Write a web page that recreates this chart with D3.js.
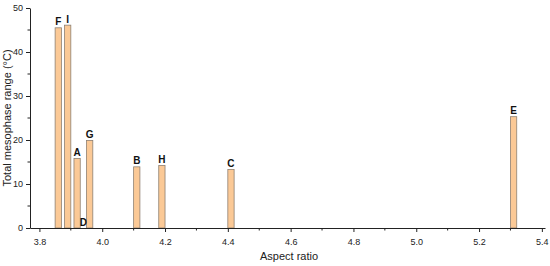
<!DOCTYPE html>
<meta charset="utf-8">
<script src="https://d3js.org/d3.v7.min.js"></script>
<style>
body { margin: 0; background: #fff; }
text { font-family: "Liberation Sans", Arial, sans-serif; }
.axis path, .axis line { stroke: #222; }
.axis text { font-size: 9px; fill: #222; }
</style>
<body></body>
<script>
// data
var labels = ["F", "I", "A", "D", "G", "B", "H", "C", "E"];
var aspect = [3.86, 3.89, 3.92, 3.94, 3.96, 4.11, 4.19, 4.41, 5.31];
var range = [45.5, 46.1, 15.8, 0, 19.9, 13.9, 14.2, 13.3, 25.3];
var xTicks = [3.8, 4.0, 4.2, 4.4, 4.6, 4.8, 5.0, 5.2, 5.4];
var yTicks = [0, 10, 20, 30, 40, 50];

var width = 550, height = 266;
var margin = {top: 8, right: 5, bottom: 38, left: 30};

var svg = d3.select("body").append("svg")
    .attr("width", width)
    .attr("height", height);

var x = d3.scaleLinear()
    .domain([3.77, 5.41])
    .range([margin.left, width - margin.right]);

var y = d3.scaleLinear()
    .domain([0, 50])
    .range([height - margin.bottom, margin.top]);

var barW = x(3.80) - x(3.78);

// bars
svg.append("g").selectAll("rect")
    .data(aspect)
    .enter().append("rect")
    .attr("x", function(d) { return x(d) - barW / 2; })
    .attr("y", function(d, i) { return y(range[i]); })
    .attr("width", barW)
    .attr("height", function(d, i) { return y(0) - y(range[i]); })
    .attr("fill", "#fbc996")
    .attr("stroke", "#8f8172")
    .attr("stroke-width", 0.8);

// letter labels
svg.append("g").selectAll("text")
    .data(aspect)
    .enter().append("text")
    .attr("x", function(d) { return x(d); })
    .attr("y", function(d, i) { return y(range[i]) - 2.5; })
    .attr("text-anchor", "middle")
    .attr("font-size", "10px")
    .attr("font-weight", "bold")
    .attr("fill", "#111")
    .text(function(d, i) { return labels[i]; });

// x axis: major + minor ticks
var xg = svg.append("g")
    .attr("class", "axis")
    .attr("transform", "translate(0," + y(0) + ")");
xg.call(d3.axisBottom(x).tickValues(xTicks).tickFormat(d3.format(".1f")).tickSize(4).tickSizeOuter(0))
  .call(function(g) { g.selectAll("text").attr("dy", "1.1em"); });
xg.selectAll(".minor")
    .data(d3.range(3.9, 5.4, 0.2))
    .enter().append("line")
    .attr("class", "minor")
    .attr("x1", function(d) { return x(d); })
    .attr("x2", function(d) { return x(d); })
    .attr("y1", 0).attr("y2", 2.5)
    .attr("stroke", "#222");

// y axis
var yg = svg.append("g")
    .attr("class", "axis")
    .attr("transform", "translate(" + margin.left + ",0)");
yg.call(d3.axisLeft(y).tickValues(yTicks).tickSize(4).tickSizeOuter(0));
yg.selectAll(".minor")
    .data(d3.range(5, 50, 10))
    .enter().append("line")
    .attr("class", "minor")
    .attr("x1", 0).attr("x2", -2.5)
    .attr("y1", function(d) { return y(d); })
    .attr("y2", function(d) { return y(d); })
    .attr("stroke", "#222");

// axis titles
svg.append("text")
    .attr("x", x(4.595))
    .attr("y", 260)
    .attr("text-anchor", "middle")
    .attr("font-size", "11px")
    .attr("fill", "#222")
    .text("Aspect ratio");

svg.append("text")
    .attr("transform", "translate(11," + y(25) + ") rotate(-90)")
    .attr("text-anchor", "middle")
    .attr("font-size", "11px")
    .attr("fill", "#222")
    .text("Total mesophase range (°C)");
</script>
